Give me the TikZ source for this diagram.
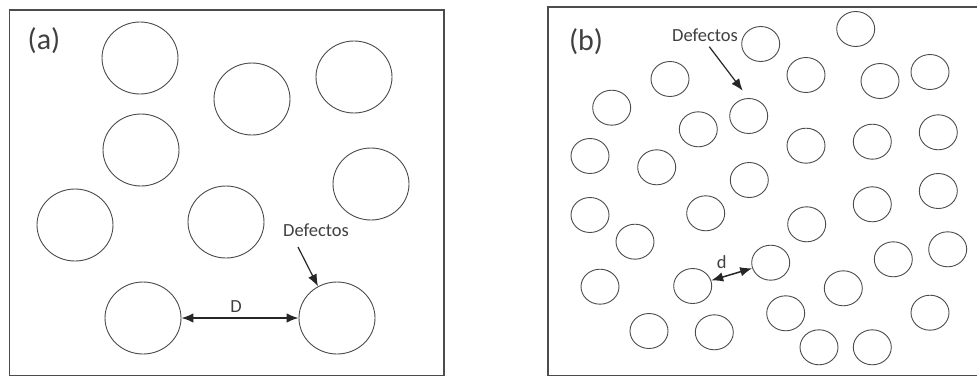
\documentclass[tikz,border=0pt]{standalone}
\usepackage{fontspec}
\setmainfont{Carlito}
\usetikzlibrary{shapes.geometric,arrows.meta}
\tikzset{
  grain/.style={draw=black!70, line width=0.9pt, ellipse, inner sep=0pt, minimum width=76pt, minimum height=72pt},
  fine/.style={draw=black!70, line width=0.9pt, ellipse, inner sep=0pt, minimum width=38pt, minimum height=35pt},
  panel/.style={draw=black!70, line width=1.8pt},
  lbl/.style={text=black!75, inner sep=0pt, font=\fontsize{18.5}{20}\selectfont},
  tag/.style={text=black!75, inner sep=0pt, font=\fontsize{30}{32}\selectfont},
}
\begin{document}
\begin{tikzpicture}[x=1pt, y=-1pt, >={Latex[length=12pt,width=9.5pt]}]
\useasboundingbox (0,0) rectangle (977,375);
\fill[white] (0,0) rectangle (977,375);

% (a) large grains
\draw[panel](9.5,10) rectangle (444.3,376);
\node[tag] (tagA) at (44,41) {(a)};
\node[grain] (a1) at (140,58) {};
\node[grain] (a2) at (252,99) {};
\node[grain] (a3) at (354,77) {};
\node[grain] (a4) at (141,150) {};
\node[grain] (a5) at (371,184) {};
\node[grain] (a6) at (75,225) {};
\node[grain] (a7) at (226,222) {};
\node[grain] (a8) at (143,318) {};
\node[grain] (a9) at (337,318) {};

\draw[<->, line width=1.5pt, black!85](a8)--(a9);
\node[lbl] (distA) at (236,307) {D};
\node[lbl] (defA) at (316,230) {Defectos};
\coordinate (tailA) at (298,247);
\draw[->, line width=1.2pt, black!85](tailA)--(a9.121);

% (b) fine grains
\draw[panel](547.7,7) rectangle (985,376);
\node[tag] (tagB) at (586,41.5) {(b)};
\node[fine] (b1) at (760.7,44) {};
\node[fine] (b2) at (855.7,29) {};
\node[fine] (b3) at (670,79) {};
\node[fine] (b4) at (806,75) {};
\node[fine] (b5) at (880,81) {};
\node[fine] (b6) at (930,72) {};
\node[fine] (b7) at (611.7,107.7) {};
\node[fine] (b8) at (748.7,116) {};
\node[fine] (b9) at (698.3,129.3) {};
\node[fine] (b10) at (806,145.7) {};
\node[fine] (b11) at (872.3,141.7) {};
\node[fine] (b12) at (938.3,132.3) {};
\node[fine] (b13) at (590,156) {};
\node[fine] (b14) at (656.7,167.3) {};
\node[fine] (b15) at (749.3,180) {};
\node[fine] (b16) at (938.3,191) {};
\node[fine] (b17) at (872.3,204.3) {};
\node[fine] (b18) at (590,215) {};
\node[fine] (b19) at (705.7,213.3) {};
\node[fine] (b20) at (806.7,224.3) {};
\node[fine] (b21) at (635,241.7) {};
\node[fine] (b22) at (893.3,259.3) {};
\node[fine] (b23) at (947.7,249.3) {};
\node[fine] (b24) at (770.7,262.7) {};
\node[fine] (b25) at (600,286.7) {};
\node[fine] (b26) at (692.7,286) {};
\node[fine] (b27) at (843.3,288.3) {};
\node[fine] (b28) at (785.7,313.3) {};
\node[fine] (b29) at (930,312.7) {};
\node[fine] (b30) at (649,331) {};
\node[fine] (b31) at (714.3,332.3) {};
\node[fine] (b32) at (819,347.3) {};
\node[fine] (b33) at (872.3,347.3) {};

\draw[<->, line width=1.5pt, black!85](b26)--(b24);
\node[lbl] (distB) at (721.7,262) {d};
\node[lbl] (defB) at (705,35.7) {Defectos};
\coordinate (tailB) at (709.3,46.7);
\coordinate (tipB) at (742.7,90.7);
\draw[->, line width=1.2pt, black!85](tailB)--(tipB);
\end{tikzpicture}
\end{document}
